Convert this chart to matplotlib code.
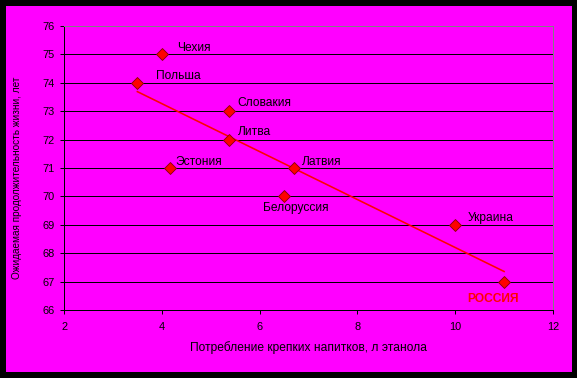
import numpy as np
import matplotlib
matplotlib.use("Agg")
import matplotlib.pyplot as plt
from matplotlib.patches import Rectangle

plt.rcParams['font.family'] = ['Liberation Sans', 'DejaVu Sans']

# data
countries = ["Чехия", "Польша", "Словакия", "Литва", "Эстония",
             "Латвия", "Белоруссия", "Украина", "РОССИЯ"]
alcohol = [4.0, 3.5, 5.37, 5.37, 4.17, 6.7, 6.5, 10.0, 11.0]
life_exp = [75, 74, 73, 72, 71, 71, 70, 69, 67]
# label offsets in points (dpi 72 -> points == pixels)
offsets = [(15, 6), (19, 7), (9, 8), (9, 8), (5, 6),
           (8, 6), (-21, -12), (12, 7), (-37, -17)]

x_ticks = [2, 4, 6, 8, 10, 12]
y_ticks = list(range(66, 77))

magenta = "#FF00FF"

fig = plt.figure(figsize=(577 / 72, 378 / 72), dpi=72, facecolor="black")
# magenta panel inside the black frame
panel = Rectangle((6 / 577, 6 / 378), 566 / 577, 366 / 378,
                  transform=fig.transFigure, facecolor=magenta,
                  edgecolor="none", zorder=-10)
fig.add_artist(panel)

ax = fig.add_axes([64 / 577, 1 - 310 / 378, 489 / 577, 284 / 378])
ax.set_facecolor(magenta)
ax.set_xlim(2, 12)
ax.set_ylim(66, 76)
ax.set_xticks(x_ticks)
ax.set_yticks(y_ticks)
ax.tick_params(direction="out", length=4, width=1, colors="black",
               labelsize=11)
ax.tick_params(axis="x", pad=8)
ax.tick_params(axis="y", pad=5)

# horizontal grid
for y in y_ticks[:-1]:
    ax.axhline(y, color="black", linewidth=1, zorder=1)

for side in ["left", "bottom"]:
    ax.spines[side].set_color("black")
    ax.spines[side].set_linewidth(1)
for side in ["top", "right"]:
    ax.spines[side].set_color("#808080")
    ax.spines[side].set_linewidth(1)

# linear trend over the data range
k, b = np.polyfit(alcohol, life_exp, 1)
xs = np.array([min(alcohol), max(alcohol)])
ax.plot(xs, k * xs + b, color="red", linewidth=1.6, zorder=2)

ax.plot(alcohol, life_exp, linestyle="none", marker="D", markersize=8,
        markerfacecolor="red", markeredgecolor="#800000",
        markeredgewidth=0.8, zorder=3, clip_on=False)

for name, xv, yv, off in zip(countries, alcohol, life_exp, offsets):
    is_ru = name == "РОССИЯ"
    ax.annotate(name, (xv, yv), xytext=off, textcoords="offset points",
                ha="left", va="center", fontsize=12,
                color="red" if is_ru else "black",
                fontweight="bold" if is_ru else "normal", zorder=4)

ax.set_xlabel("Потребление крепких напитков, л этанола", fontsize=12,
              labelpad=9)
fig.text(17 / 577, 1 - 178 / 378, "Ожидаемая продолжительность жизни, лет",
         rotation=90, ha="center", va="center", fontsize=10)

fig.savefig("out.png", dpi=72, facecolor="black")
